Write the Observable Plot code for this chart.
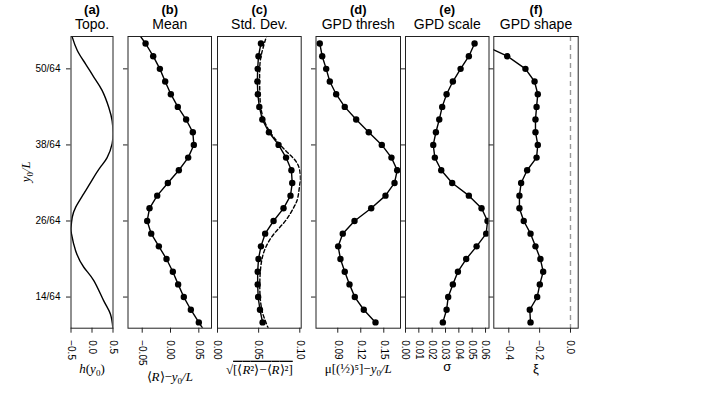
<!DOCTYPE html>
<html><head><meta charset="utf-8">
<script src="https://cdn.jsdelivr.net/npm/d3@7"></script>
<script src="https://cdn.jsdelivr.net/npm/@observablehq/plot@0.6"></script>
<style>
body{margin:0;background:#fff}
#chart{position:relative;width:703px;height:396px;overflow:hidden}
#chart svg{position:absolute;left:0;top:0}
</style></head><body><div id="chart"></div>
<script>
// y positions in 64ths of L
const yIdx = [8,10,12,14,16,18,20,22,24,26,28,30,32,34,36,38,40,42,44,46,48,50,52,54,56];
const yTickNum = [14,26,38,50];
const yTickLabels = ["14/64","26/64","38/64","50/64"];

// (a) topography
const topoY = [55.6,55.0,52.9,50.8,48.7,46.6,43.9,41.8,40.0,38.2,36.0,34.5,32.5,30.3,28.15,26.6,25.0,24.0,21.3,18.7,16.6,13.4,11.3,9.2,8.6];
const topoH = [-0.495,-0.47,-0.35,-0.155,0.043,0.24,0.40,0.48,0.5,0.48,0.36,0.20,0.005,-0.195,-0.39,-0.47,-0.5,-0.49,-0.39,-0.195,0.043,0.28,0.44,0.495,0.495];

// (b) mean
const meanVals = [0.0648,0.050,0.0359,0.0235,0.0135,0.0041,-0.0071,-0.0206,-0.0341,-0.0412,-0.0371,-0.0235,-0.0047,0.0147,0.0312,0.0412,0.0394,0.0276,0.0129,0.0006,-0.0094,-0.0188,-0.0306,-0.0441,-0.060];
// (c) std dev
const stdVals = [null,0.0548,0.0516,0.0494,0.0488,0.0488,0.0498,0.0528,0.0579,0.0681,0.0802,0.0887,0.0908,0.0898,0.0833,0.0742,0.0625,0.0545,0.0508,0.0490,0.0484,0.0488,0.0498,0.0528,null];
const stdRefY = [55.6,54.7,52.9,50.8,48.15,45.5,43.4,41.3,39.2,37.1,35.5,33.9,32.4,31.8,29.7,28.15,26.05,23.95,21.8,19.7,17.1,14.5,12.4,10.8,9.2,8.6];
const stdRefVals = [0.0605,0.0585,0.0545,0.0516,0.0512,0.0516,0.0533,0.0585,0.0685,0.0827,0.0948,0.1,0.1008,0.1,0.0976,0.0927,0.0827,0.0685,0.0585,0.0536,0.0516,0.0516,0.0533,0.0565,0.0613,0.063];
// (d) GPD threshold
const threshVals = [null,0.1392,0.1239,0.1122,0.1053,0.0991,0.0935,0.0905,0.0965,0.1118,0.1336,0.1522,0.164,0.1675,0.160,0.1474,0.1304,0.114,0.0991,0.0879,0.0796,0.0749,0.0697,0.0665,null];
// (e) GPD scale
const scaleVals = [null,0.028,0.0308,0.032,0.0355,0.0393,0.0455,0.0533,0.0605,0.0615,0.057,0.0475,0.035,0.0268,0.022,0.0208,0.0228,0.0253,0.0275,0.0308,0.0355,0.0413,0.0475,0.0518,null];
// (f) GPD shape
const shapeVals = [null,-0.259,-0.264,-0.216,-0.199,-0.177,-0.195,-0.227,-0.259,-0.303,-0.331,-0.331,-0.32,-0.281,-0.22,-0.212,-0.227,-0.227,-0.22,-0.212,-0.233,-0.292,-0.41,-0.584,null];

const W = 703, H = 396, TOP = 36, BOT = 327.7;
const yDomain = [0.142, 0.861];
const yTickVals = yTickNum.map(d => d / 64);
const SANS = "Liberation Sans, Arial, sans-serif";
const SERIF = "Liberation Serif, Times New Roman, serif";

function series(vals) { return yIdx.map((y, i) => ({y: y / 64, x: vals[i]})); }
function pairs(ys, xs) { return ys.map((y, i) => ({y: y / 64, x: xs[i]})); }

function lineDots(vals) {
  const data = series(vals);
  return [
    Plot.line(data, {x: "x", y: "y", stroke: "#000", strokeWidth: 1.4, clip: true}),
    Plot.dot(data.filter(d => d.x != null), {x: "x", y: "y", r: 3.2, fill: "#000", clip: true})
  ];
}

function panel(o) {
  return Plot.plot({
    width: W, height: H,
    marginLeft: o.left, marginRight: W - o.right, marginTop: TOP, marginBottom: H - BOT,
    x: {domain: o.xDomain},
    y: {domain: yDomain},
    style: {background: "transparent", overflow: "visible", fontFamily: SANS, fontSize: "10px", color: "#000"},
    marks: [
      ...o.marks,
      Plot.frame({stroke: "#222", strokeWidth: 1}),
      Plot.axisY({ticks: yTickVals, anchor: "left", tickSize: 4.5, tickPadding: 6, label: null, stroke: "#222",
        tickFormat: o.showY ? (d => yTickLabels[yTickVals.indexOf(d)]) : (() => ""), fontSize: 10}),
      Plot.axisX({ticks: o.xTicks, anchor: "bottom", tickSize: 5, tickPadding: 7, tickRotate: 90, label: null, stroke: "#222",
        tickFormat: d3.format(o.fmt), fontSize: 10}),
      Plot.text([o.letter], {frameAnchor: "top", dy: 9 - TOP, lineAnchor: "middle", fontWeight: "bold", fontSize: 13}),
      Plot.text([o.title], {frameAnchor: "top", dy: 24.5 - TOP, lineAnchor: "middle", fontSize: 14}),
      Plot.text([o.label], {frameAnchor: "bottom", dy: o.labelY - BOT, lineAnchor: "middle", fontSize: 13,
        fontFamily: o.serif === false ? SANS : SERIF}),
      ...(o.extra || [])
    ]
  });
}

const chart = document.getElementById("chart");
const panels = [
  {left: 70.5, right: 112.5, xDomain: [-0.5, 0.5], xTicks: [-0.5, 0, 0.5], fmt: ".1f", letter: "(a)", title: "Topo.",
   label: "LBL_A", labelY: 368, showY: true,
   marks: [Plot.line(pairs(topoY, topoH), {x: "x", y: "y", curve: "natural", stroke: "#000", strokeWidth: 1.4, clip: true})],
   extra: [Plot.text(["LBL_Y"], {frameAnchor: "left", dx: 25 - 70.5, rotate: -90, lineAnchor: "middle", fontSize: 13, fontFamily: SERIF})]},
  {left: 127.5, right: 211, xDomain: [-0.0751, 0.0724], xTicks: [-0.05, 0, 0.05], fmt: ".2f", letter: "(b)", title: "Mean",
   label: "LBL_B", labelY: 376, marks: lineDots(meanVals)},
  {left: 217, right: 300.7, xDomain: [0, 0.1017], xTicks: [0, 0.05, 0.1], fmt: ".2f", letter: "(c)", title: "Std. Dev.",
   label: "LBL_C", labelY: 369,
   marks: [Plot.line(pairs(stdRefY, stdRefVals), {x: "x", y: "y", curve: "natural", stroke: "#000", strokeWidth: 1.4, strokeDasharray: "3.5,2.5", clip: true}),
           ...lineDots(stdVals)]},
  {left: 315.5, right: 400, xDomain: [0.0616, 0.1718], xTicks: [0.09, 0.12, 0.15], fmt: ".2f", letter: "(d)", title: "GPD thresh",
   label: "LBL_D", labelY: 368, marks: lineDots(threshVals)},
  {left: 405, right: 488.5, xDomain: [0, 0.0626], xTicks: [0, 0.01, 0.02, 0.03, 0.04, 0.05, 0.06], fmt: ".2f", letter: "(e)", title: "GPD scale",
   label: "σ", labelY: 366.5, serif: false, marks: lineDots(scaleVals)},
  {left: 493.3, right: 577.7, xDomain: [-0.4972, 0.05], xTicks: [-0.4, -0.2, 0], fmt: ".1f", letter: "(f)", title: "GPD shape",
   label: "ξ", labelY: 368, serif: false,
   marks: [Plot.ruleX([0], {stroke: "#999", strokeWidth: 1.4, strokeDasharray: "5,4"}), ...lineDots(shapeVals)]}
];
for (const p of panels) chart.appendChild(panel(p));

const sub0 = '<tspan font-style="italic">y</tspan><tspan font-size="9" dy="3">0</tspan><tspan dy="-3" font-style="italic">/L</tspan>';
const rich = {
  "LBL_Y": sub0,
  "LBL_A": '<tspan font-style="italic">h</tspan>(<tspan font-style="italic">y</tspan><tspan font-size="9" dy="3">0</tspan><tspan dy="-3">)</tspan>',
  "LBL_B": '⟨<tspan font-style="italic">R</tspan>⟩−' + sub0,
  "LBL_C": '√<tspan style="text-decoration:overline">[⟨<tspan font-style="italic">R</tspan>²⟩−⟨<tspan font-style="italic">R</tspan>⟩²]</tspan>',
  "LBL_D": 'μ[(½)⁵]−' + sub0
};
chart.querySelectorAll("text").forEach(t => {
  const k = t.textContent;
  if (rich[k]) t.innerHTML = rich[k];
});
</script></body></html>
